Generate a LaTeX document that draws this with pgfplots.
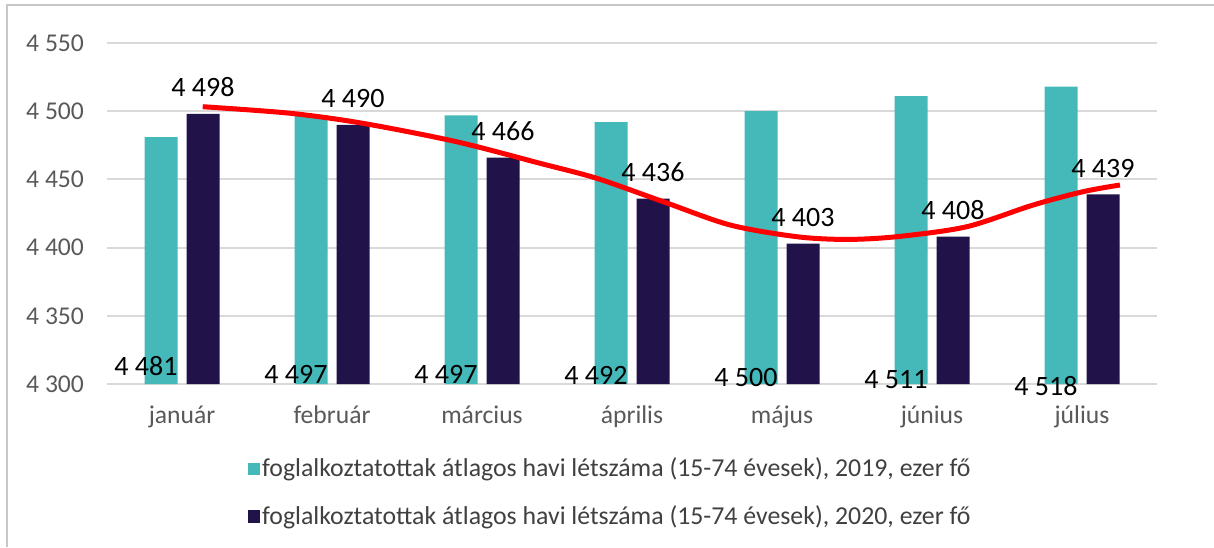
\documentclass[border=0pt]{standalone}
\usepackage{fontspec}
\setmainfont{Carlito}
\usepackage{pgfplots}
\pgfplotsset{compat=1.18}
\definecolor{teal19}{RGB}{69,184,185}
\definecolor{navy20}{RGB}{33,18,74}
\definecolor{gridgray}{RGB}{217,217,217}
\definecolor{ticktext}{RGB}{89,89,89}
\definecolor{legtext}{RGB}{64,64,64}
\definecolor{framegray}{RGB}{200,200,200}
\begin{document}
\begin{tikzpicture}
\path[use as bounding box] (0,0) rectangle (607pt,273.5pt);
\begin{axis}[
  at={(53.5pt,81.5pt)}, anchor=south west,
  scale only axis, width=525pt, height=170.5pt,
  xmin=-0.5, xmax=6.5, ymin=4300, ymax=4550,
  ytick={4300,4350,4400,4450,4500,4550},
  xtick={0,1,2,3,4,5,6},
  xticklabels={január,február,március,április,május,június,július},
  axis line style={draw=none}, major tick length=0pt,
  ymajorgrids, grid style={gridgray, line width=1pt},
  /pgf/number format/1000 sep={\ },
  /pgf/number format/assume math mode=true,
  tick label style={font=\fontsize{12.8}{15}\selectfont, text=ticktext},
  yticklabel style={xshift=-8pt},
  xticklabel style={yshift=-7.5pt},
  legend style={at={(0.134,-0.21)}, anchor=north west, draw=none, fill=none,
    inner sep=0pt, row sep=11pt, nodes={inner sep=1pt},
    font=\fontsize{12.9}{15}\selectfont, text=legtext},
  legend cell align=left,
]
\addplot[ybar, bar width=16.5pt, bar shift=-10.5pt, fill=teal19, draw=none,
  legend image code/.code={\fill[teal19] (0pt,-3pt) rectangle (6pt,3.2pt);}]
  coordinates {(0,4481) (1,4497) (2,4497) (3,4492) (4,4500) (5,4511) (6,4518)};
\addlegendentry{foglalkoztatottak átlagos havi létszáma (15-74 évesek), 2019, ezer fő}
\addplot[ybar, bar width=16.5pt, bar shift=10.5pt, fill=navy20, draw=none,
  nodes near coords, point meta=y,
  every node near coord/.append style={font=\fontsize{14}{16}\selectfont, text=black, anchor=south, xshift=10.5pt, yshift=5pt},
  legend image code/.code={\fill[navy20] (0pt,-3pt) rectangle (6pt,3.2pt);}]
  coordinates {(0,4498) (1,4490) (2,4466) (3,4436) (4,4403) (5,4408) (6,4439)};
\addlegendentry{foglalkoztatottak átlagos havi létszáma (15-74 évesek), 2020, ezer fő}
\addplot[forget plot, only marks, mark=o, mark size=0pt, mark options={draw=none},
  nodes near coords, point meta=explicit symbolic,
  every node near coord/.append style={font=\fontsize{14}{16}\selectfont, text=black, anchor=center, xshift=-18pt, yshift=-6.82pt}]
  coordinates {(0,4323.2) [4 481] (1,4317.3) [4 497] (2,4317.3) [4 497] (3,4316.6) [4 492]
               (4,4314.4) [4 500] (5,4312.9) [4 511] (6,4308.5) [4 518]};
\addplot[forget plot, red, line width=2.5pt, smooth]
  coordinates {(0.138,4503.3) (0.72,4498.5) (1.207,4491.1) (1.831,4477.6) (2.387,4461.8)
               (2.765,4450.8) (3.207,4433.7) (3.653,4416.6) (4.098,4408.0) (4.43,4406.0)
               (4.765,4408.0) (5.231,4415.3) (5.673,4431.2) (6.007,4441.0) (6.253,4445.9)};
\end{axis}
\draw[framegray, line width=1pt] (3.5pt,0) -- (3.5pt,271pt) -- (607pt,271pt);
\end{tikzpicture}
\end{document}
